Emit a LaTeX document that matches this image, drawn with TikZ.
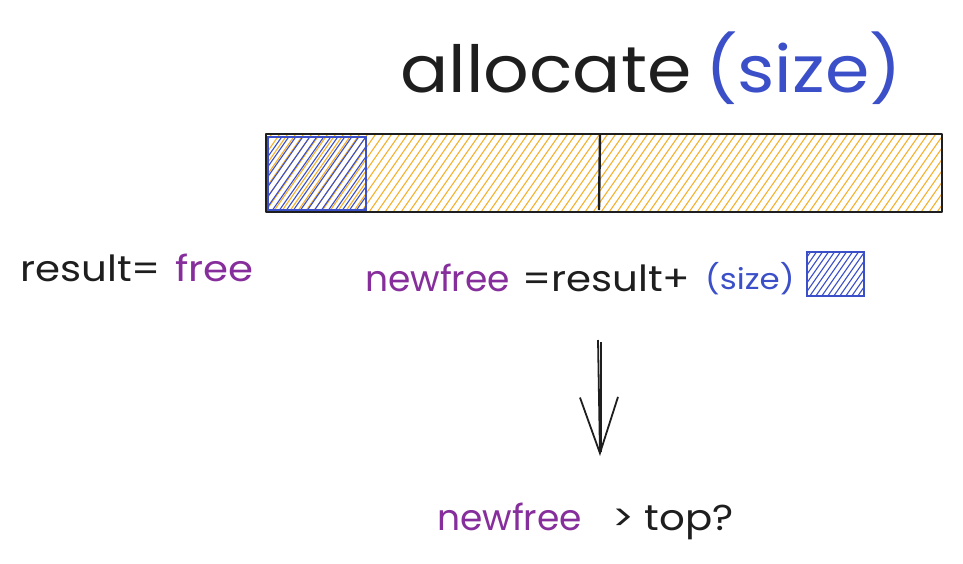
\documentclass[tikz,border=0pt]{standalone}
\usepackage{fontspec}
\setmainfont{Poppins}
\newfontfamily\handwide[FakeStretch=1.12]{Poppins}
\newfontfamily\handbig[FakeStretch=1.1]{Poppins}
\usetikzlibrary{arrows.meta,calc}
\definecolor{ink}{HTML}{1E1E1E}
\definecolor{violetx}{HTML}{862E9C}
\definecolor{indigox}{HTML}{3B4FC8}
\definecolor{amberx}{HTML}{F5B12B}
\tikzset{
  txt/.style={anchor=base west, inner sep=0pt, text=ink},
  big/.style={font=\handbig\fontsize{65}{68}\selectfont},
  mid/.style={font=\handwide\fontsize{36}{40}\selectfont},
  midn/.style={font=\fontsize{36}{40}\selectfont},
  sml/.style={font=\handwide\fontsize{29}{32}\selectfont},
  outline/.style={draw=ink, line width=2.4pt, line join=round},
  hatchA/.style={amberx, line width=1.1pt},
  hatchB/.style={indigox, line width=1.1pt},
}
\begin{document}
\begin{tikzpicture}[x=1pt,y=-1pt]
\useasboundingbox (0,0) rectangle (963,563);
% title
\node[txt,big] (t1) at (400,92) {allocate};
\node[txt,big,text=indigox] (t2) at (705,92) {(size)};
% bar hatch
\begin{scope}
\clip (266,134) rectangle (942,212);
\foreach \i in {0,...,100} \draw[hatchA] (200+\i*8,225) -- ++(75,-107);
\end{scope}
\begin{scope}
\clip (268,137) rectangle (366,210);
\foreach \i in {0,...,24} \draw[hatchB] (220+\i*7,225) -- ++(75,-107);
\end{scope}
\draw[outline] (266,134) rectangle (942,212);
\draw[outline] (600,134) -- (599,210);
\draw[indigox, line width=2.2pt] (268,137) rectangle (366,210);
% left text
\node[txt,mid] (r1) at (20,281) {result=};
\node[txt,mid,text=violetx] (r2) at (175,281) {free};
% middle text
\node[txt,midn,text=violetx] (n1) at (365,291) {newfree};
\node[txt,mid] (n2) at (522,291) {=result+};
\node[txt,sml,text=indigox] (n3) at (705,289) {(size)};
\begin{scope}
\clip (807,252) rectangle (864,296);
\foreach \i in {0,...,16} \draw[hatchB] (770+\i*6,310) -- ++(60,-86);
\end{scope}
\draw[indigox, line width=2.2pt] (807,252) rectangle (864,296);
% arrow
\coordinate (a0) at (598,340);
\coordinate (a1) at (600,456);
\draw[ink, line width=1.8pt, -{Straight Barb[length=56pt,width=38pt,line width=1.8pt]}] (a0) -- (a1);
\draw[ink, line width=1.2pt] ($(a0)+(3,2)$) -- ($(a1)+(1,-4)$);
% bottom text
\node[txt,midn,text=violetx] (b1) at (437,530) {newfree};
\node[txt,mid] (b2) at (612,530) {> top?};
\end{tikzpicture}
\end{document}
